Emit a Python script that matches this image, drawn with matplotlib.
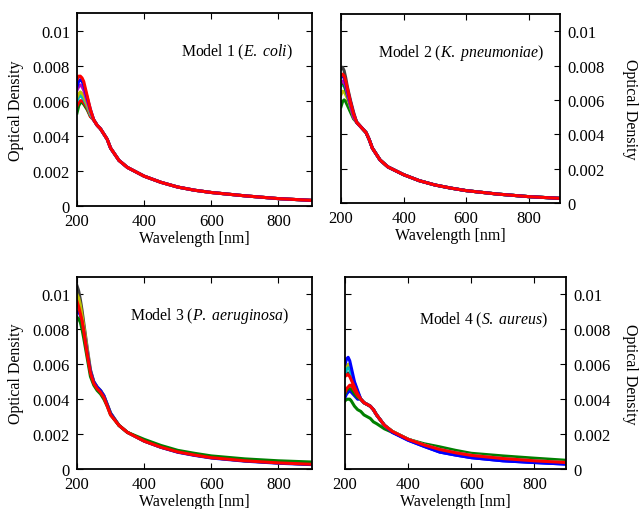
import matplotlib
matplotlib.use('Agg')
import matplotlib.pyplot as plt
from matplotlib.ticker import FixedLocator, FuncFormatter

plt.rcParams['font.family'] = 'Liberation Serif'
plt.rcParams['mathtext.fontset'] = 'custom'
plt.rcParams['mathtext.rm'] = 'Liberation Serif'
plt.rcParams['mathtext.it'] = 'Liberation Serif:italic'

# wavelength grid [nm]
wl = [200, 205, 210, 215, 220, 230, 240, 250, 260, 270, 280, 290, 300,
      325, 350, 400, 450, 500, 550, 600, 700, 800, 900]

B, G, R, C, M, Y, K = '#0000ff', '#008000', '#ff0000', '#00bfbf', '#bf00bf', '#bfbf00', '#404040'

# ---- Model 1 (E. coli): heads = 200..240 nm, shared tail = 250..900 nm
p1_colors = [G, R, C, Y, M, B, R]
p1_heads = [
    [0.0053, 0.0057, 0.0059, 0.0059, 0.0058, 0.0055, 0.0051],
    [0.0057, 0.0059, 0.0060, 0.0060, 0.0059, 0.0056, 0.0051],
    [0.0060, 0.0062, 0.0063, 0.0062, 0.0061, 0.0057, 0.0052],
    [0.0062, 0.0064, 0.0065, 0.0064, 0.0063, 0.0058, 0.0053],
    [0.0066, 0.0068, 0.0069, 0.0068, 0.0066, 0.0060, 0.0054],
    [0.0068, 0.0071, 0.0072, 0.0071, 0.0069, 0.0062, 0.0055],
    [0.0072, 0.0074, 0.0074, 0.0073, 0.0071, 0.0063, 0.0055],
]
p1_tail = [0.0049, 0.0046, 0.0044, 0.0041, 0.0038, 0.0033, 0.0026, 0.0022,
           0.0017, 0.00135, 0.00108, 0.0009, 0.00077, 0.00058, 0.00042, 0.00032]

# ---- Model 2 (K. pneumoniae)
p2_colors = [K, G, Y, C, G, M, B, R]
p2_heads = [
    [0.0078, 0.0079, 0.0077, 0.0073, 0.0068, 0.0060, 0.0053],
    [0.0056, 0.0059, 0.0060, 0.0059, 0.0057, 0.0053, 0.0049],
    [0.0063, 0.0065, 0.0065, 0.0063, 0.0061, 0.0056, 0.0050],
    [0.0068, 0.0069, 0.0068, 0.0066, 0.0063, 0.0057, 0.0051],
    [0.0069, 0.0070, 0.0069, 0.0066, 0.0063, 0.0057, 0.0051],
    [0.0070, 0.0071, 0.0070, 0.0068, 0.0064, 0.0057, 0.0050],
    [0.0073, 0.0074, 0.0073, 0.0070, 0.0066, 0.0059, 0.0052],
    [0.0074, 0.0075, 0.0074, 0.0071, 0.0067, 0.0059, 0.0052],
]
p2_tail = [0.0047, 0.0045, 0.0043, 0.0041, 0.0037, 0.0032, 0.0025, 0.0021,
           0.00165, 0.0013, 0.00105, 0.00087, 0.00072, 0.00052, 0.00037, 0.00027]

# ---- Model 3 (P. aeruginosa)
p3_colors = [K, Y, B, G, R]
p3_heads = [
    [0.0105, 0.0102, 0.0097, 0.0091, 0.0084, 0.0070, 0.0057],
    [0.0100, 0.0098, 0.0094, 0.0088, 0.0082, 0.0069, 0.0056],
    [0.0090, 0.0090, 0.0088, 0.0084, 0.0079, 0.0067, 0.0056],
    [0.0087, 0.0086, 0.0084, 0.0080, 0.0075, 0.0064, 0.0053],
    [0.0096, 0.0093, 0.0089, 0.0085, 0.0079, 0.0066, 0.0055],
]
p3_tails = [
    [0.0050, 0.0047, 0.0045, 0.0042, 0.0037, 0.0032, 0.0025, 0.0021,
     0.0016, 0.00125, 0.00098, 0.0008, 0.00065, 0.00047, 0.00035, 0.00027],
    [0.0050, 0.0047, 0.0045, 0.0042, 0.0037, 0.0032, 0.0025, 0.0021,
     0.0016, 0.00125, 0.00098, 0.0008, 0.00065, 0.00047, 0.00035, 0.00027],
    [0.0050, 0.0047, 0.0045, 0.0042, 0.0037, 0.0032, 0.0025, 0.0021,
     0.0016, 0.00124, 0.00096, 0.00078, 0.00063, 0.00045, 0.00033, 0.00025],
    [0.0048, 0.0045, 0.0043, 0.0040, 0.0036, 0.0031, 0.0025, 0.0021,
     0.0017, 0.00135, 0.00107, 0.0009, 0.00075, 0.00058, 0.00047, 0.00040],
    [0.0049, 0.0046, 0.0044, 0.0041, 0.0036, 0.0031, 0.0025, 0.0021,
     0.0016, 0.00125, 0.00098, 0.0008, 0.00065, 0.00047, 0.00035, 0.00027],
]

# ---- Model 4 (S. aureus)
p4_colors = [G, B, G, R, K, Y, C, B, R]
p4_heads = [
    [0.0039, 0.0040, 0.0040, 0.0040, 0.0039, 0.0036, 0.0034],
    [0.0041, 0.0043, 0.0044, 0.0045, 0.0044, 0.0042, 0.0040],
    [0.0043, 0.0045, 0.0046, 0.0046, 0.0046, 0.0043, 0.0041],
    [0.0044, 0.0046, 0.0047, 0.0048, 0.0048, 0.0045, 0.0042],
    [0.0054, 0.0055, 0.0055, 0.0054, 0.0052, 0.0047, 0.0043],
    [0.0057, 0.0059, 0.0060, 0.0058, 0.0055, 0.0049, 0.0044],
    [0.0055, 0.0057, 0.0058, 0.0057, 0.0054, 0.0049, 0.0044],
    [0.0060, 0.0063, 0.0064, 0.0062, 0.0058, 0.0050, 0.0045],
    [0.0053, 0.0054, 0.0054, 0.0053, 0.0051, 0.0047, 0.0043],
]
p4_tail_main = [0.0040, 0.0038, 0.0037, 0.0036, 0.0034, 0.0031, 0.0025, 0.00215,
                0.0017, 0.00138, 0.00112, 0.00093, 0.00078, 0.0006, 0.00047, 0.00037]
p4_tail_green = [0.0033, 0.0031, 0.0030, 0.0029, 0.0027, 0.0026, 0.0023, 0.0021,
                 0.0017, 0.00145, 0.00127, 0.00107, 0.0009, 0.00075, 0.00062, 0.0005]
p4_tail_blue = [0.0040, 0.0038, 0.0037, 0.0036, 0.0034, 0.0031, 0.0025, 0.0021,
                0.00165, 0.0013, 0.00097, 0.0008, 0.00065, 0.00047, 0.00037, 0.00028]
p4_tails = [p4_tail_green, p4_tail_blue, p4_tail_main, p4_tail_main, p4_tail_main,
            p4_tail_main, p4_tail_main, p4_tail_blue, p4_tail_main]

labels = [r'Model 1 ($\mathit{E.\ coli}$)',
          r'Model 2 ($\mathit{K.\ pneumoniae}$)',
          r'Model 3 ($\mathit{P.\ aeruginosa}$)',
          r'Model 4 ($\mathit{S.\ aureus}$)']

W, H = 639, 510
fig = plt.figure(figsize=(W / 100, H / 100), dpi=100)


def px_axes(x0, y0, x1, y1):
    return fig.add_axes([x0 / W, 1 - y1 / H, (x1 - x0) / W, (y1 - y0) / H])


axes = [px_axes(77, 14, 312, 207), px_axes(341, 15, 560, 204),
        px_axes(77, 278, 312, 470), px_axes(345, 278, 566, 470)]

panels = [
    (p1_colors, p1_heads, [p1_tail] * len(p1_heads)),
    (p2_colors, p2_heads, [p2_tail] * len(p2_heads)),
    (p3_colors, p3_heads, p3_tails),
    (p4_colors, p4_heads, p4_tails),
]
text_pos = [(0.92, 0.80), (0.93, 0.80), (0.905, 0.80), (0.92, 0.78)]
right_label_x = [None, (630 - 341) / 219, None, (630 - 345) / 221]


def fmt(v, pos):
    return '0' if abs(v) < 1e-12 else ('%g' % v)


for i, (ax, (cols, heads, tails)) in enumerate(zip(axes, panels)):
    for c, h, t in zip(cols, heads, tails):
        ax.plot(wl, h + t, color=c, lw=2.2, solid_joinstyle='round')
    ax.set_xlim(200, 900)
    ax.set_ylim(0, 0.011)
    ax.xaxis.set_major_locator(FixedLocator([200, 400, 600, 800]))
    ax.yaxis.set_major_locator(FixedLocator([0, 0.002, 0.004, 0.006, 0.008, 0.01]))
    ax.yaxis.set_major_formatter(FuncFormatter(fmt))
    ax.tick_params(direction='in', top=True, right=True, length=4, width=0.8,
                   labelsize=12, pad=5)
    for s in ax.spines.values():
        s.set_linewidth(1.3)
    ax.set_xlabel('Wavelength [nm]', fontsize=11.5, labelpad=1)
    if i % 2 == 1:
        ax.yaxis.tick_right()
        ax.tick_params(axis='y', left=True, labelleft=False, labelright=True)
        ax.yaxis.set_label_position('right')
        ax.set_ylabel('Optical Density', fontsize=11.5, rotation=-90)
        ax.yaxis.label.set_va('center')
        ax.yaxis.set_label_coords(right_label_x[i], 0.5)
    else:
        ax.set_ylabel('Optical Density', fontsize=11.5, labelpad=6)
    ax.text(text_pos[i][0], text_pos[i][1], labels[i], transform=ax.transAxes,
            ha='right', va='center', fontsize=11.3)

fig.savefig('out.png', dpi=100)
